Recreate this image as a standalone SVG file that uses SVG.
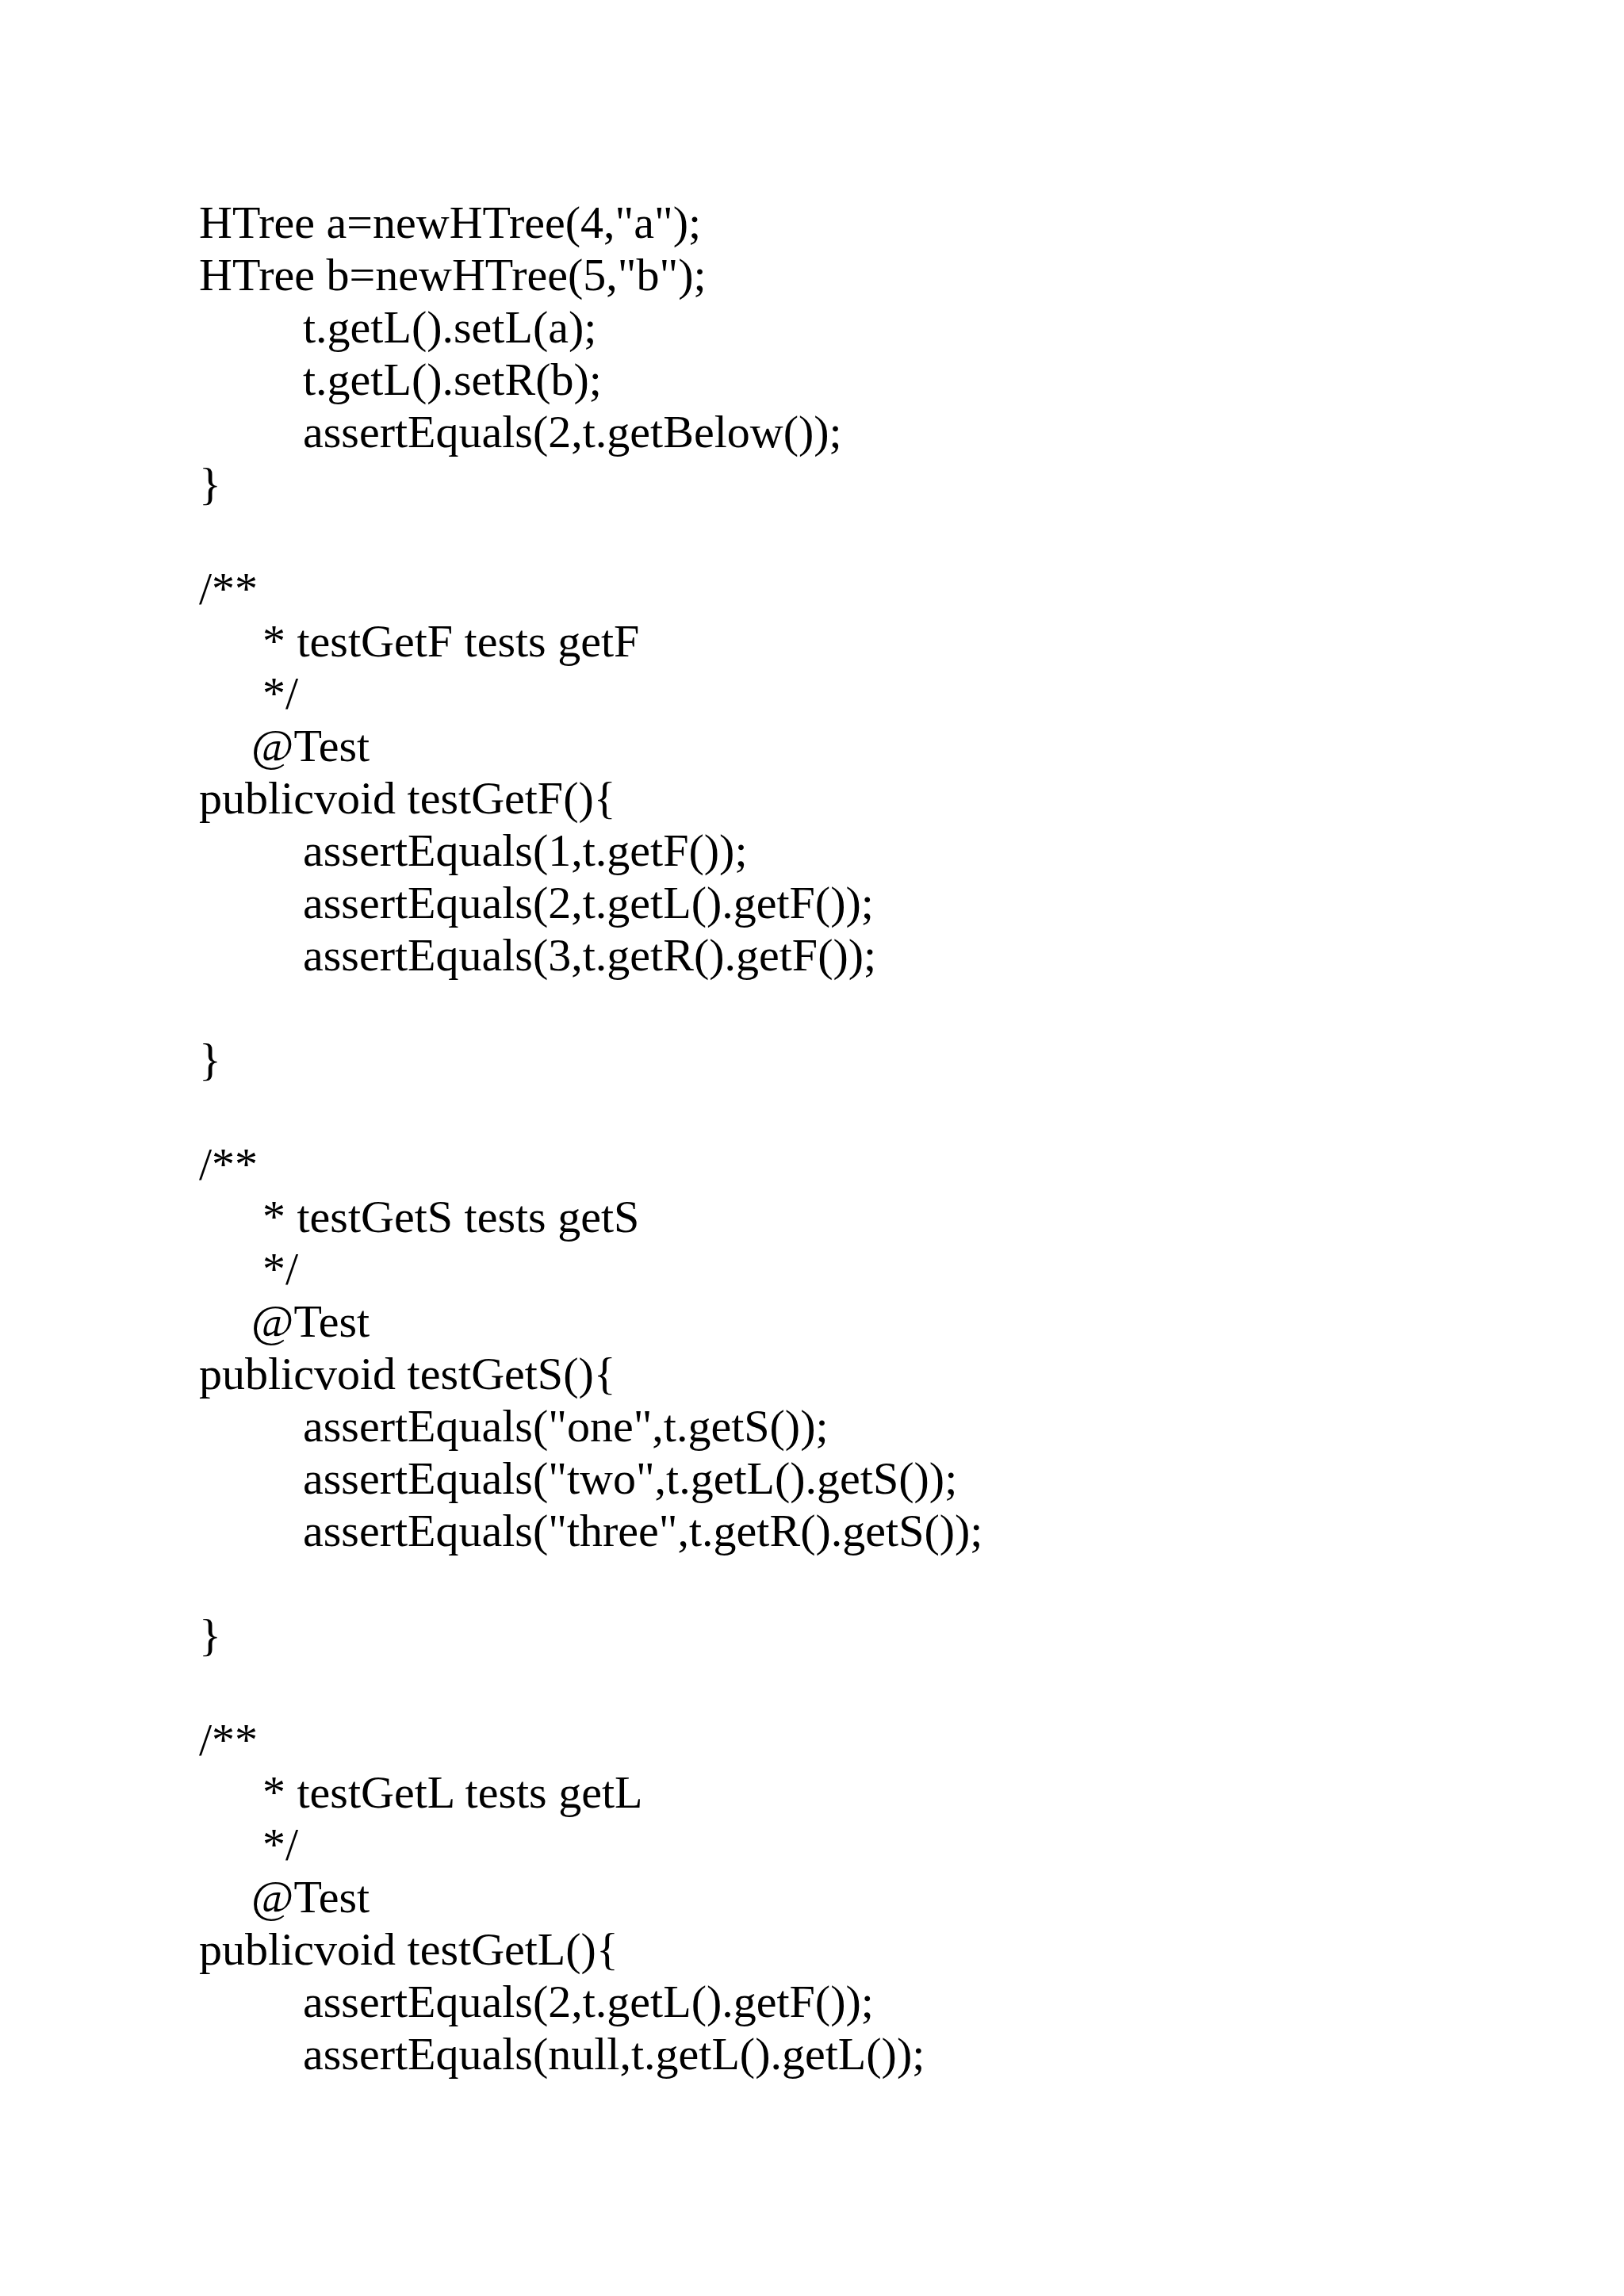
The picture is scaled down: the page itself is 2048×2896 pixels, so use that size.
<svg xmlns="http://www.w3.org/2000/svg" width="2048" height="2896" viewBox="0 0 2048 2896">
<style>text{font-family:"Liberation Serif","Times New Roman",serif;font-size:58px;fill:#000}</style>
<rect width="2048" height="2896" fill="#fff"/>
<g id="code">
<text x="251" y="300">HTree a=newHTree(4,"a");</text>
<text x="251" y="366">HTree b=newHTree(5,"b");</text>
<text x="382" y="432">t.getL().setL(a);</text>
<text x="382" y="498">t.getL().setR(b);</text>
<text x="382" y="564">assertEquals(2,t.getBelow());</text>
<text x="251" y="630">}</text>
<text x="251" y="762">/**</text>
<text x="331" y="828">* testGetF tests getF</text>
<text x="331" y="894">*/</text>
<text x="317" y="960">@Test</text>
<text x="251" y="1026">publicvoid testGetF(){</text>
<text x="382" y="1092">assertEquals(1,t.getF());</text>
<text x="382" y="1158">assertEquals(2,t.getL().getF());</text>
<text x="382" y="1224">assertEquals(3,t.getR().getF());</text>
<text x="251" y="1356">}</text>
<text x="251" y="1488">/**</text>
<text x="331" y="1554">* testGetS tests getS</text>
<text x="331" y="1620">*/</text>
<text x="317" y="1686">@Test</text>
<text x="251" y="1752">publicvoid testGetS(){</text>
<text x="382" y="1818">assertEquals("one",t.getS());</text>
<text x="382" y="1884">assertEquals("two",t.getL().getS());</text>
<text x="382" y="1950">assertEquals("three",t.getR().getS());</text>
<text x="251" y="2082">}</text>
<text x="251" y="2214">/**</text>
<text x="331" y="2280">* testGetL tests getL</text>
<text x="331" y="2346">*/</text>
<text x="317" y="2412">@Test</text>
<text x="251" y="2478">publicvoid testGetL(){</text>
<text x="382" y="2544">assertEquals(2,t.getL().getF());</text>
<text x="382" y="2610">assertEquals(null,t.getL().getL());</text>
</g>
</svg>
